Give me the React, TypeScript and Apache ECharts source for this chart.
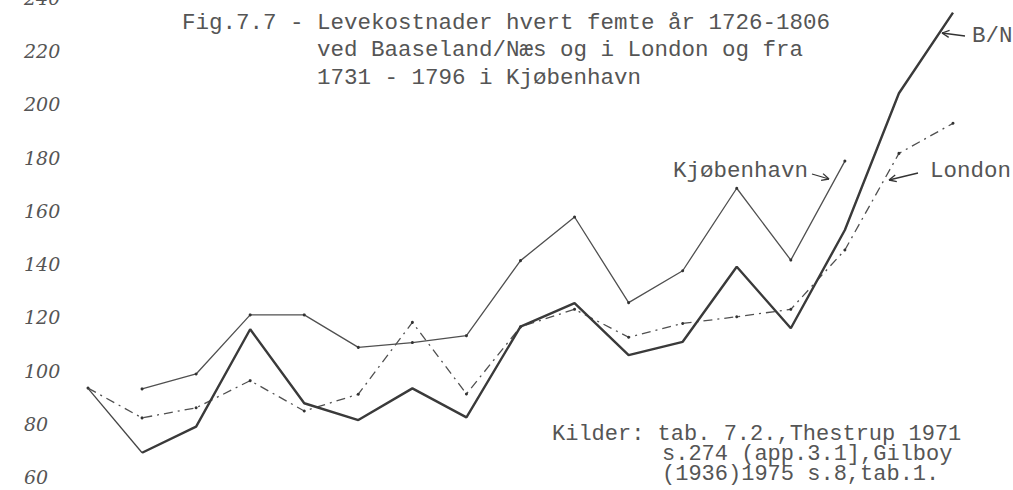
import React, { useEffect, useRef } from "react";
import * as echarts from "echarts";

const years = ["1726","1731","1736","1741","1746","1751","1756","1761","1766","1771","1776","1781","1786","1791","1796","1801","1806"];
const bnValues = [95.0, 70.8, 80.6, 117.2, 89.4, 83.1, 95.0, 84.1, 118.2, 127.0, 107.5, 112.5, 140.7, 117.6, 154.5, 205.9, 236.2];
// Kjøbenhavn 1731 - 1796
const kbhValues = [94.8, 100.4, 122.6, 122.6, 110.4, 112.2, 114.8, 143.0, 159.4, 127.2, 139.2, 170.2, 143.2, 180.4];
const londonValues = [95.1, 83.9, 87.7, 97.9, 86.5, 92.8, 119.8, 92.9, 118.1, 124.7, 114.2, 119.4, 121.9, 124.7, 147.0, 183.3, 194.6];
const yTicks = { min: 60, max: 240, step: 20 };

const titleLines = [
  "Fig.7.7 - Levekostnader hvert femte år 1726-1806",
  "ved Baaseland/Næs og i London og fra",
  "1731 - 1796 i Kjøbenhavn",
];
const sourceLines = [
  "Kilder: tab. 7.2.,Thestrup 1971",
  "s.274 (app.3.1],Gilboy",
  "(1936)1975 s.8,tab.1.",
];

const MONO = "'Liberation Mono', 'DejaVu Sans Mono', monospace";
const INK = "#555555";

function txt(text: string, x: number, y: number, size = 22.5, lh = 22) {
  return {
    type: "text",
    x,
    y,
    silent: true,
    style: { text, fontFamily: MONO, fontSize: size, lineHeight: lh, fill: INK, align: "left", verticalAlign: "middle" },
  };
}

function arrow(tx: number, ty: number, hx: number, hy: number) {
  const ang = Math.atan2(hy - ty, hx - tx);
  const len = 8;
  const a1 = ang + Math.PI - 0.45;
  const a2 = ang + Math.PI + 0.45;
  const st = { stroke: "#333", lineWidth: 1.3 };
  return [
    { type: "line", silent: true, shape: { x1: tx, y1: ty, x2: hx, y2: hy }, style: st },
    { type: "line", silent: true, shape: { x1: hx, y1: hy, x2: hx + len * Math.cos(a1), y2: hy + len * Math.sin(a1) }, style: st },
    { type: "line", silent: true, shape: { x1: hx, y1: hy, x2: hx + len * Math.cos(a2), y2: hy + len * Math.sin(a2) }, style: st },
  ];
}

export default function App() {
  const ref = useRef<HTMLDivElement>(null);
  useEffect(() => {
    if (!ref.current) return;
    const chart = echarts.init(ref.current, null, { renderer: "svg" });
    const bnStart = bnValues.map((v, i) => (i <= 1 ? v : null));
    const bnMain = bnValues.map((v, i) => (i >= 1 ? v : null));
    const kbh = years.map((_, i) => (i >= 1 && i - 1 < kbhValues.length ? kbhValues[i - 1] : null));

    chart.setOption({
      animation: false,
      backgroundColor: "#ffffff",
      grid: { left: 88, right: 60, top: 2.5, bottom: 8.5, containLabel: false, outerBoundsMode: "none" },
      xAxis: {
        type: "category",
        data: years,
        boundaryGap: false,
        axisLine: { show: false },
        axisTick: { show: false },
        axisLabel: { show: false },
        splitLine: { show: false },
      },
      yAxis: {
        type: "value",
        min: yTicks.min,
        max: yTicks.max,
        interval: yTicks.step,
        axisLine: { show: false },
        axisTick: { show: false },
        splitLine: { show: false },
        axisLabel: {
          margin: 64,
          align: "left",
          verticalAlign: "bottom",
          lineHeight: 15,
          padding: [0, 0, -3, 0],
          fontFamily: "'DejaVu Serif', 'Liberation Serif', serif",
          fontStyle: "italic",
          fontSize: 19,
          color: "#555",
        },
      },
      series: [
        {
          name: "B/N start",
          type: "line",
          data: bnStart,
          showSymbol: false,
          lineStyle: { color: "#444", width: 1.3 },
          z: 3,
        },
        {
          name: "B/N",
          type: "line",
          data: bnMain,
          showSymbol: false,
          lineStyle: { color: "#3a3a3a", width: 2.4 },
          z: 4,
        },
        {
          name: "Kjøbenhavn",
          type: "line",
          data: kbh,
          symbol: "circle",
          symbolSize: 3,
          itemStyle: { color: "#333" },
          lineStyle: { color: "#505050", width: 1.3 },
          z: 2,
        },
        {
          name: "London",
          type: "line",
          data: londonValues,
          symbol: "circle",
          symbolSize: 3,
          itemStyle: { color: "#333" },
          lineStyle: { color: "#505050", width: 1.3, type: [9, 5, 2, 5] },
          z: 2,
        },
      ],
      graphic: [
        txt(titleLines[0], 182, 23),
        txt(titleLines[1], 317, 50),
        txt(titleLines[2], 317, 78),
        txt(sourceLines[0], 552, 434, 22, 17),
        txt(sourceLines[1], 662, 454, 22, 17),
        txt(sourceLines[2], 662, 474, 22, 17),
        txt("Kjøbenhavn", 673, 171),
        txt("London", 930, 171),
        txt("B/N", 972, 36),
        ...arrow(812, 174, 829, 179),
        ...arrow(918, 173, 889, 180),
        ...arrow(965, 36, 942, 33),
      ],
    });
    return () => chart.dispose();
  }, []);
  return (
    <div
      ref={ref}
      style={{ position: "fixed", left: 0, top: 0, width: 1013, height: 490, background: "#fff" }}
    />
  );
}
